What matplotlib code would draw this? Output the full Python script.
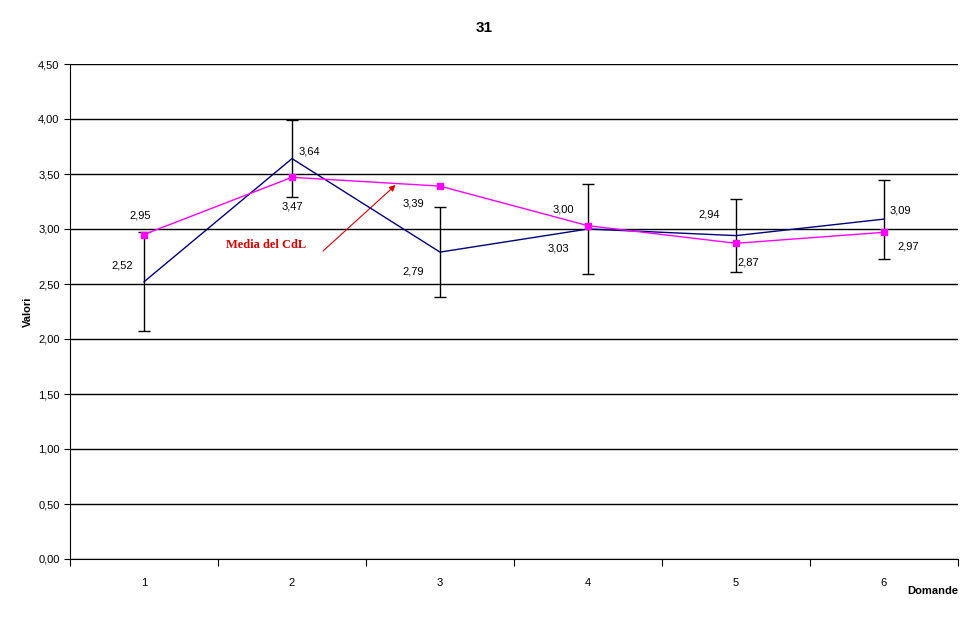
import matplotlib.pyplot as plt

domande = [1, 2, 3, 4, 5, 6]
media_corso = [2.52, 3.64, 2.79, 3.00, 2.94, 3.09]
errore = [0.45, 0.35, 0.41, 0.41, 0.33, 0.36]
media_cdl = [2.95, 3.47, 3.39, 3.03, 2.87, 2.97]
y_ticks = [0.0, 0.5, 1.0, 1.5, 2.0, 2.5, 3.0, 3.5, 4.0, 4.5]

# label offsets in pixels (dx, dy)
off_corso = [(-22, 16), (17, 7), (-27, -19), (-25, 20), (-27, 21), (16, 9)]
off_cdl = [(-4, 19), (0, -29), (-27, -17), (-30, -23), (12, -19), (24, -14)]

plt.rcParams['font.family'] = ['Liberation Sans', 'DejaVu Sans']

fig = plt.figure(figsize=(9.7, 6.23), dpi=100)
ax = fig.add_axes([70 / 970, 64 / 623, 888 / 970, 495 / 623])

ax.errorbar(domande, media_corso, yerr=errore, color='#000080', lw=1,
            ecolor='black', elinewidth=1, capsize=4, capthick=1, zorder=3)
ax.plot(domande, media_cdl, color='#ff00ff', lw=1, marker='s', ms=5,
        markeredgecolor='#ff00ff', zorder=4)

for x, v, o in zip(domande, media_corso, off_corso):
    ax.annotate(f"{v:.2f}".replace('.', ','), (x, v), xytext=o,
                textcoords='offset pixels', ha='center', va='center', fontsize=8)
for x, v, o in zip(domande, media_cdl, off_cdl):
    ax.annotate(f"{v:.2f}".replace('.', ','), (x, v), xytext=o,
                textcoords='offset pixels', ha='center', va='center', fontsize=8)

# callout for the CdL series
ax.text(1.554, 2.855, "Media del CdL", color='#dd0000', fontsize=9,
        fontweight='bold', family='Liberation Serif', ha='left', va='center')
ax.annotate("", xy=(2.70, 3.40), xytext=(2.21, 2.80),
            arrowprops=dict(arrowstyle='-|>', color='#dd0000', lw=0.8,
                            mutation_scale=9, shrinkA=0, shrinkB=0))

ax.set_xlim(0.5, 6.5)
ax.set_ylim(0, 4.5)
ax.set_yticks(y_ticks)
ax.set_yticklabels([f"{t:.2f}".replace('.', ',') for t in y_ticks], fontsize=8)
ax.yaxis.grid(True, color='black', lw=1)
ax.set_axisbelow(True)

ax.set_xticks([x + 0.5 for x in [0] + domande])
ax.set_xticklabels([])
ax.set_xticks(domande, minor=True)
ax.set_xticklabels([str(d) for d in domande], minor=True, fontsize=8)
ax.tick_params(axis='x', which='minor', length=0, pad=14)
ax.tick_params(axis='x', which='major', length=5, direction='out')
ax.tick_params(axis='y', length=4, direction='out')

for s in ['top', 'right']:
    ax.spines[s].set_visible(False)

ax.set_ylabel("Valori", fontsize=8, fontweight='bold')
ax.text(1.0, -0.065, "Domande", transform=ax.transAxes, ha='right', va='center',
        fontsize=8, fontweight='bold')
fig.text(484 / 970, 1 - 28 / 623, "31", ha='center', va='center', fontsize=11,
         fontweight='bold')

fig.savefig("out.png", dpi=100)
